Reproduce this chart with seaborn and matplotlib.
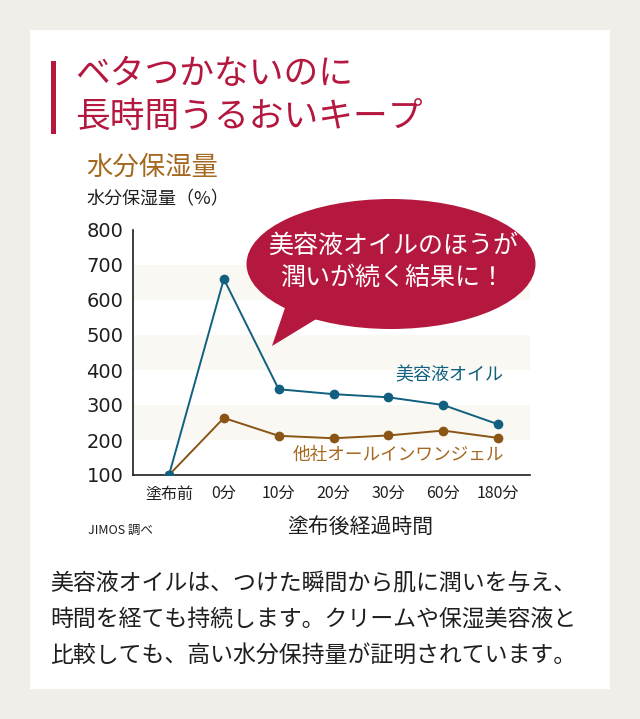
import matplotlib
matplotlib.use("Agg")
import matplotlib.pyplot as plt
import seaborn as sns
import pandas as pd
from matplotlib.patches import Ellipse, Polygon, Rectangle

# ---- data ----
times = ["塗布前", "0分", "10分", "20分", "30分", "60分", "180分"]
serum_oil = [100, 660, 345, 331, 322, 300, 245]
other_gel = [100, 263, 212, 205, 213, 227, 206]
series_names = ["美容液オイル", "他社オールインワンジェル"]
y_ticks = [100, 200, 300, 400, 500, 600, 700, 800]

title_lines = ["ベタつかないのに", "長時間うるおいキープ"]
chart_title = "水分保湿量"
y_label = "水分保湿量（%）"
x_label = "塗布後経過時間"
source = "JIMOS 調べ"
bubble_lines = ["美容液オイルのほうが", "潤いが続く結果に！"]
paragraph = ["美容液オイルは、つけた瞬間から肌に潤いを与え、",
             "時間を経ても持続します。クリームや保湿美容液と",
             "比較しても、高い水分保持量が証明されています。"]

# ---- style ----
sns.set_theme(style="white")
plt.rcParams['font.family'] = ['Noto Sans CJK JP', 'DejaVu Sans']

CRIMSON = "#b5183f"
BLUE = "#11607f"
BROWN = "#8a5414"
LABEL_BROWN = "#a5681f"
BG = "#efeee9"
BAND = "#f9f8f3"
INK = "#1e1e1e"

W, H = 640, 719
fig = plt.figure(figsize=(W / 100, H / 100), dpi=100)
fig.patch.set_facecolor(BG)

# background axes in pixel coords
bg = fig.add_axes([0, 0, 1, 1], zorder=0)
bg.set_xlim(0, W); bg.set_ylim(H, 0); bg.axis("off")
bg.add_patch(Rectangle((30, 30), 580, 659, facecolor="white", edgecolor="none"))

# data axes
x0, x1, ytop, ybot = 133, 530, 230, 475
ax = fig.add_axes([x0 / W, (H - ybot) / H, (x1 - x0) / W, (ybot - ytop) / H], zorder=1)
ax.patch.set_alpha(0)

df = pd.DataFrame({
    "time": times * 2,
    "value": serum_oil + other_gel,
    "series": [series_names[0]] * len(times) + [series_names[1]] * len(times),
})
# draw brown first then blue on top
for name, col in [(series_names[1], BROWN), (series_names[0], BLUE)]:
    sub = df[df["series"] == name]
    sns.lineplot(data=sub, x="time", y="value", ax=ax, color=col, marker="o",
                 markersize=7, markeredgewidth=0, linewidth=1.4, sort=False,
                 legend=False, zorder=3)

step = (498 - 169) / 6.0
ax.set_xlim(-(169 - x0) / step, (x1 - 169) / step)
ax.set_ylim(100, 800)
for lo in (200, 400, 600):
    ax.axhspan(lo, lo + 100, color=BAND, zorder=0, lw=0)

ax.set_xticks(range(len(times)))
ax.set_xticklabels(times)
ax.set_xticks(list(range(1, len(times))) + [ax.get_xlim()[1]], minor=True)
ax.tick_params(axis="x", which="major", length=0, pad=8, labelsize=11.5, colors=INK)
ax.tick_params(axis="x", which="minor", direction="in", length=5, width=1.1, color=INK)
ax.set_yticks(y_ticks)
ax.tick_params(axis="y", direction="in", length=5, width=1.1, color=INK, pad=7,
               labelsize=14, labelcolor=INK)
for lab in ax.get_yticklabels():
    lab.set_fontfamily(['DejaVu Sans'])
ax.set_xlabel(""); ax.set_ylabel("")
for s in ("top", "right"):
    ax.spines[s].set_visible(False)
for s in ("left", "bottom"):
    ax.spines[s].set_color(INK)
    ax.spines[s].set_linewidth(1.2)

# overlay axes for annotations
ov = fig.add_axes([0, 0, 1, 1], zorder=2)
ov.set_xlim(0, W); ov.set_ylim(H, 0); ov.axis("off"); ov.patch.set_alpha(0)

ov.add_patch(Rectangle((51, 61), 5, 73, facecolor=CRIMSON, edgecolor="none"))
ov.text(75, 75, title_lines[0], fontsize=25, color=CRIMSON, va="center", ha="left")
ov.text(75, 117, title_lines[1], fontsize=25, color=CRIMSON, va="center", ha="left")

ov.text(86, 167, chart_title, fontsize=19, color=LABEL_BROWN, va="center")
ov.text(86, 199, y_label, fontsize=13, color=INK, va="center")

# speech bubble
ov.add_patch(Ellipse((391, 264), 289, 130, facecolor=CRIMSON, edgecolor="none"))
ov.add_patch(Polygon([(272, 346), (287, 302), (318, 318)], closed=True,
                     facecolor=CRIMSON, edgecolor="none"))
ov.text(393, 246, bubble_lines[0], fontsize=18, color="white", ha="center", va="center")
ov.text(393, 278, bubble_lines[1], fontsize=18, color="white", ha="center", va="center")

ov.text(503, 375, series_names[0], fontsize=13, color=BLUE, ha="right", va="center")
ov.text(504, 455, series_names[1], fontsize=12.7, color=LABEL_BROWN, ha="right", va="center")

ov.text(88, 530, source, fontsize=9, color=INK, va="center")
ov.text(360, 527, x_label, fontsize=15, color=INK, ha="center", va="center")

for i, line in enumerate(paragraph):
    ov.text(50, 583 + 36 * i, line, fontsize=16.5, color=INK, va="center")

fig.savefig("out.png", dpi=100, facecolor=fig.get_facecolor())
